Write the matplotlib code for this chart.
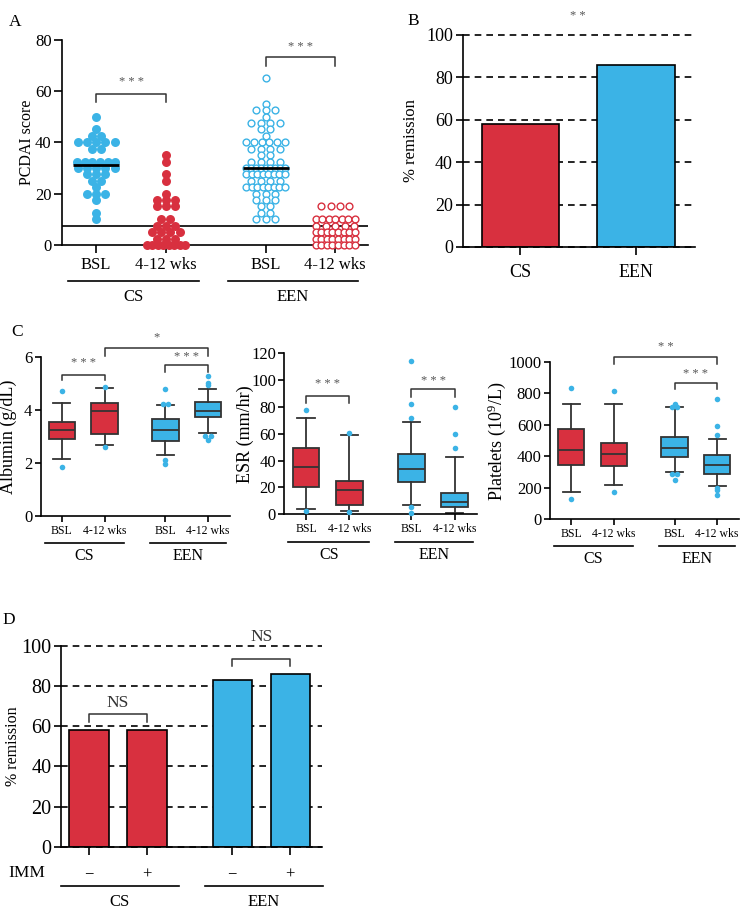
import matplotlib
matplotlib.use('Agg')
import matplotlib.pyplot as plt
import numpy as np

plt.rcParams['font.family'] = ['Liberation Serif', 'DejaVu Serif']
plt.rcParams['mathtext.fontset'] = 'stix'
plt.rcParams['axes.linewidth'] = 1.2

RED = '#d8303f'
BLUE = '#3bb3e6'
DARK = '#333333'
STAR = '#555555'

# panel A - PCDAI scores
groups = ['CS', 'EEN']
time_labels = ['BSL', '4-12 wks']
pcdai_cs_bsl = [50, 45, 42.5, 42.5] + [40] * 5 + [37.5] * 2 + [32.5] * 6 + [30] * 5 + \
    [27.5] * 3 + [25] * 2 + [22.5] + [20] * 3 + [17.5, 12.5, 10]
pcdai_cs_wk = [35, 32.5, 27.5, 25, 20] + [17.5] * 3 + [15] * 3 + [10] * 2 + [7.5] * 3 + \
    [5] * 4 + [2.5] * 3 + [0] * 8
pcdai_een_bsl = [65, 55] + [52.5] * 3 + [50] + [47.5] * 4 + [45] * 2 + [42.5] + [40] * 6 + \
    [37.5] * 4 + [35] * 2 + [32.5] * 4 + [30] * 9 + [27.5] * 8 + [25] * 4 + [22.5] * 8 + \
    [20] * 3 + [17.5] * 3 + [15] * 2 + [12.5] * 2 + [10] * 3
pcdai_een_wk = [15] * 4 + [10] * 7 + [7.5] * 5 + [5] * 8 + [2.5] * 8 + [0] * 8
remission_cut = 7.5

# panel B - remission
remission = [58, 86]

# panel C - lab values (median, q1, q3, whisker low, whisker high, outliers)
alb_med = [3.24, 3.96, 3.24, 3.96]
alb_q1 = [2.92, 3.10, 2.85, 3.75]
alb_q3 = [3.54, 4.29, 3.67, 4.31]
alb_lo = [2.16, 2.69, 2.31, 3.14]
alb_hi = [4.28, 4.83, 4.19, 4.82]
alb_out = [[4.71, 1.87], [4.89, 2.62], [4.82, 4.23, 4.23, 2.1, 1.96], [5.31, 5.02, 4.94, 3.01, 3.01, 2.86]]

esr_med = [35, 18.1, 34, 8.9]
esr_q1 = [20.6, 7, 24.3, 5.5]
esr_q3 = [49.7, 24.6, 45, 16.1]
esr_lo = [4, 2.7, 6.7, 1.2]
esr_hi = [71.6, 59.4, 68.6, 42.5]
esr_out = [[77.8, 2.5], [60.9, 1.5], [114, 82.5, 71.8, 5.2, 1.2], [79.8, 60.1, 49.7]]

plt_med = [442, 414, 450, 345]
plt_q1 = [345, 338, 397, 290]
plt_q3 = [571, 486, 520, 406]
plt_lo = [175, 220, 298, 209]
plt_hi = [729, 729, 712, 512]
plt_out = [[833, 127], [814, 171], [734, 712, 712, 290, 290, 247], [761, 594, 533, 197, 186, 156]]

# panel D - remission by immunomodulator
imm_labels = ['\u2212', '+', '\u2212', '+']
remission_imm = [58.1, 58.1, 83, 86]

W, H = 741, 910
fig = plt.figure(figsize=(W / 100, H / 100), dpi=100)


def px_axes(left, top, right, bottom):
    return fig.add_axes([left / W, 1 - bottom / H, (right - left) / W, (bottom - top) / H])


def clean(ax):
    ax.spines['top'].set_visible(False)
    ax.spines['right'].set_visible(False)


def dashed_grid(ax):
    ax.set_axisbelow(True)
    ax.yaxis.grid(True, linestyle=(0, (4, 3)), color='black', lw=1.2)
    for line in ax.get_ygridlines():
        line.set_clip_on(False)


def swarm_x(center, values, step, max_width):
    values = np.asarray(values, dtype=float)
    xs = np.empty(len(values))
    for v in np.unique(values):
        idx = np.where(values == v)[0]
        n = len(idx)
        d = step if n < 2 else min(step, max_width / (n - 1))
        xs[idx] = center + (np.arange(n) - (n - 1) / 2) * d
    return xs


def bracket(ax, x0, x1, y, drop, text, ty, fs=9, color=STAR):
    ax.plot([x0, x0, x1, x1], [y - drop, y, y, y - drop], color=DARK, lw=1.1, clip_on=False)
    ax.text((x0 + x1) / 2, ty, text, ha='center', va='center', fontsize=fs, color=color, clip_on=False)


def group_lines(ax, spans, y_line, y_text, fs):
    tr = ax.get_xaxis_transform()
    for (x0, x1), name in zip(spans, groups):
        ax.plot([x0, x1], [y_line, y_line], color='black', lw=1.2, transform=tr, clip_on=False)
        ax.text((x0 + x1) / 2, y_text, name, transform=tr, ha='center', va='center', fontsize=fs)


# ---------------- A
axA = px_axes(62, 39.5, 368, 245)
clean(axA)
pos_a = [0, 1, 2.43, 3.43]
axA.scatter(swarm_x(pos_a[0], pcdai_cs_bsl, 0.132, 0.55), pcdai_cs_bsl, s=42, color=BLUE, lw=0, clip_on=False, zorder=3)
axA.scatter(swarm_x(pos_a[1], pcdai_cs_wk, 0.132, 0.55), pcdai_cs_wk, s=42, color=RED, lw=0, clip_on=False, zorder=3)
axA.scatter(swarm_x(pos_a[2], pcdai_een_bsl, 0.135, 0.56), pcdai_een_bsl, s=24, facecolor='white', edgecolor=BLUE, lw=1.0, clip_on=False, zorder=3)
axA.scatter(swarm_x(pos_a[3], pcdai_een_wk, 0.135, 0.56), pcdai_een_wk, s=24, facecolor='white', edgecolor=RED, lw=1.0, clip_on=False, zorder=3)
axA.hlines(np.median(pcdai_cs_bsl), pos_a[0] - 0.33, pos_a[0] + 0.33, color='black', lw=2, zorder=4)
axA.hlines(np.median(pcdai_een_bsl), pos_a[2] - 0.33, pos_a[2] + 0.33, color='black', lw=2, zorder=4)
axA.axhline(remission_cut, color='black', lw=1.2, zorder=2)
axA.set_xlim(-0.49, 3.9)
axA.set_ylim(0, 80)
axA.set_yticks([0, 20, 40, 60, 80])
axA.set_xticks(pos_a, time_labels * 2)
axA.tick_params(axis='both', labelsize=12, length=5.5, width=1.2, pad=2)
axA.tick_params(axis='x', pad=3)
axA.set_ylabel('PCDAI score', fontsize=11.5)
axA.yaxis.set_label_coords(-0.088, 0.5)
bracket(axA, pos_a[0], pos_a[1], 58.8, 3.2, '* * *', 63.5)
bracket(axA, pos_a[2], pos_a[3], 73, 3.2, '* * *', 77)
group_lines(axA, [(-0.40, 1.48), (1.89, 3.76)], -0.175, -0.255, 12)

# ---------------- B
axB = px_axes(462.7, 35, 695, 247)
clean(axB)
dashed_grid(axB)
axB.bar([0, 1], remission, width=0.67, color=[RED, BLUE], edgecolor='black', lw=1.2)
axB.set_xlim(-0.5, 1.51)
axB.set_ylim(0, 100)
axB.set_yticks([0, 20, 40, 60, 80, 100])
axB.set_xticks([0, 1], groups)
axB.tick_params(axis='y', labelsize=13, length=5, width=1.2, pad=2)
axB.tick_params(axis='x', labelsize=13, length=6, width=1.2, pad=6)
axB.set_ylabel('% remission', fontsize=12)
axB.yaxis.set_label_coords(-0.188, 0.5)
axB.text(0.5, 109, '* *', ha='center', va='center', fontsize=9, color=STAR, clip_on=False)

# ---------------- C
pos_c = [0, 1, 2.43, 3.43]
box_colors = [RED, RED, BLUE, BLUE]
spans_c = [(-0.41, 1.46), (2.06, 3.85)]


def box_panel(ax, med, q1, q3, lo, hi, out, ylim, yticks, ylabel, label_x):
    clean(ax)
    stats = []
    for i in range(4):
        stats.append(dict(med=med[i], q1=q1[i], q3=q3[i], whislo=lo[i], whishi=hi[i], fliers=[]))
    bp = ax.bxp(stats, positions=pos_c, widths=0.62, patch_artist=True, showfliers=False,
                capwidths=0.4,
                boxprops=dict(edgecolor=DARK, lw=1.3),
                medianprops=dict(color=DARK, lw=1.3),
                whiskerprops=dict(color=DARK, lw=1.3),
                capprops=dict(color=DARK, lw=1.3))
    for patch, c in zip(bp['boxes'], box_colors):
        patch.set_facecolor(c)
    for p, vals in zip(pos_c, out):
        ax.scatter(swarm_x(p, vals, 0.13, 0.4), vals, s=16, color=BLUE, lw=0, zorder=4, clip_on=False)
    ax.set_xlim(-0.5, 3.95)
    ax.set_ylim(*ylim)
    ax.set_yticks(yticks)
    ax.set_xticks(pos_c, time_labels * 2)
    ax.tick_params(axis='y', labelsize=12, length=4.5, width=1.2, pad=1.5)
    ax.tick_params(axis='x', labelsize=8.5, length=4, width=1.2, pad=2.5)
    ax.set_ylabel(ylabel, fontsize=13)
    ax.yaxis.set_label_coords(label_x, 0.5)
    group_lines(ax, spans_c, -0.172, -0.255, 11.5)


axC1 = px_axes(40.7, 357.3, 230, 516)
box_panel(axC1, alb_med, alb_q1, alb_q3, alb_lo, alb_hi, alb_out, (0, 6), [0, 2, 4, 6],
          'Albumin (g/dL)', -0.125)
bracket(axC1, pos_c[0], pos_c[1], 5.32, 0.18, '* * *', 5.78)
bracket(axC1, pos_c[2], pos_c[3], 5.70, 0.24, '* * *', 6.03)
bracket(axC1, pos_c[1], pos_c[3], 6.34, 0.29, '*', 6.76)

axC2 = px_axes(284.3, 353.3, 477.3, 514.3)
box_panel(axC2, esr_med, esr_q1, esr_q3, esr_lo, esr_hi, esr_out, (0, 120),
          [0, 20, 40, 60, 80, 100, 120], 'ESR (mm/hr)', -0.157)
bracket(axC2, pos_c[0], pos_c[1], 88.2, 5, '* * *', 97)
bracket(axC2, pos_c[2], pos_c[3], 93.2, 5.5, '* * *', 99.6)

axC3 = px_axes(550, 361.7, 739.3, 519.3)
box_panel(axC3, plt_med, plt_q1, plt_q3, plt_lo, plt_hi, plt_out, (0, 1000),
          [0, 200, 400, 600, 800, 1000], 'Platelets (10$^{\\mathregular{9}}$/L)', -0.222)
bracket(axC3, pos_c[2], pos_c[3], 865, 40, '* * *', 922)
bracket(axC3, pos_c[1], pos_c[3], 1027, 42, '* *', 1095)

# ---------------- D
axD = px_axes(61, 646, 321.7, 846.7)
clean(axD)
pos_d = [0, 1, 2.47, 3.47]
dashed_grid(axD)
axD.bar(pos_d, remission_imm, width=0.68, color=[RED, RED, BLUE, BLUE], edgecolor='black', lw=1.2)
axD.set_xlim(-0.48, 4.01)
axD.set_ylim(0, 100)
axD.set_yticks([0, 20, 40, 60, 80, 100])
axD.set_xticks(pos_d, imm_labels)
axD.tick_params(axis='y', labelsize=14.5, length=5, width=1.2, pad=2)
axD.tick_params(axis='x', labelsize=12, length=6, width=1.2, pad=8)
axD.set_ylabel('% remission', fontsize=11.5)
axD.yaxis.set_label_coords(-0.153, 0.5)
axD.text(-1.07, -0.13, 'IMM', transform=axD.get_xaxis_transform(), ha='center', va='center', fontsize=12.5)
bracket(axD, pos_d[0], pos_d[1], 66, 4, 'NS', 71.4, fs=12.5, color=DARK)
bracket(axD, pos_d[2], pos_d[3], 93.5, 3.6, 'NS', 104.6, fs=12.5, color=DARK)
group_lines(axD, [(-0.48, 1.55), (2.0, 4.03)], -0.194, -0.274, 12)

# panel letters
for letter, x, y in [('A', 15, 22), ('B', 413, 21), ('C', 17, 332), ('D', 9, 620)]:
    fig.text(x / W, 1 - y / H, letter, fontsize=12.5, ha='center', va='center')

fig.savefig('out.png', dpi=100)
